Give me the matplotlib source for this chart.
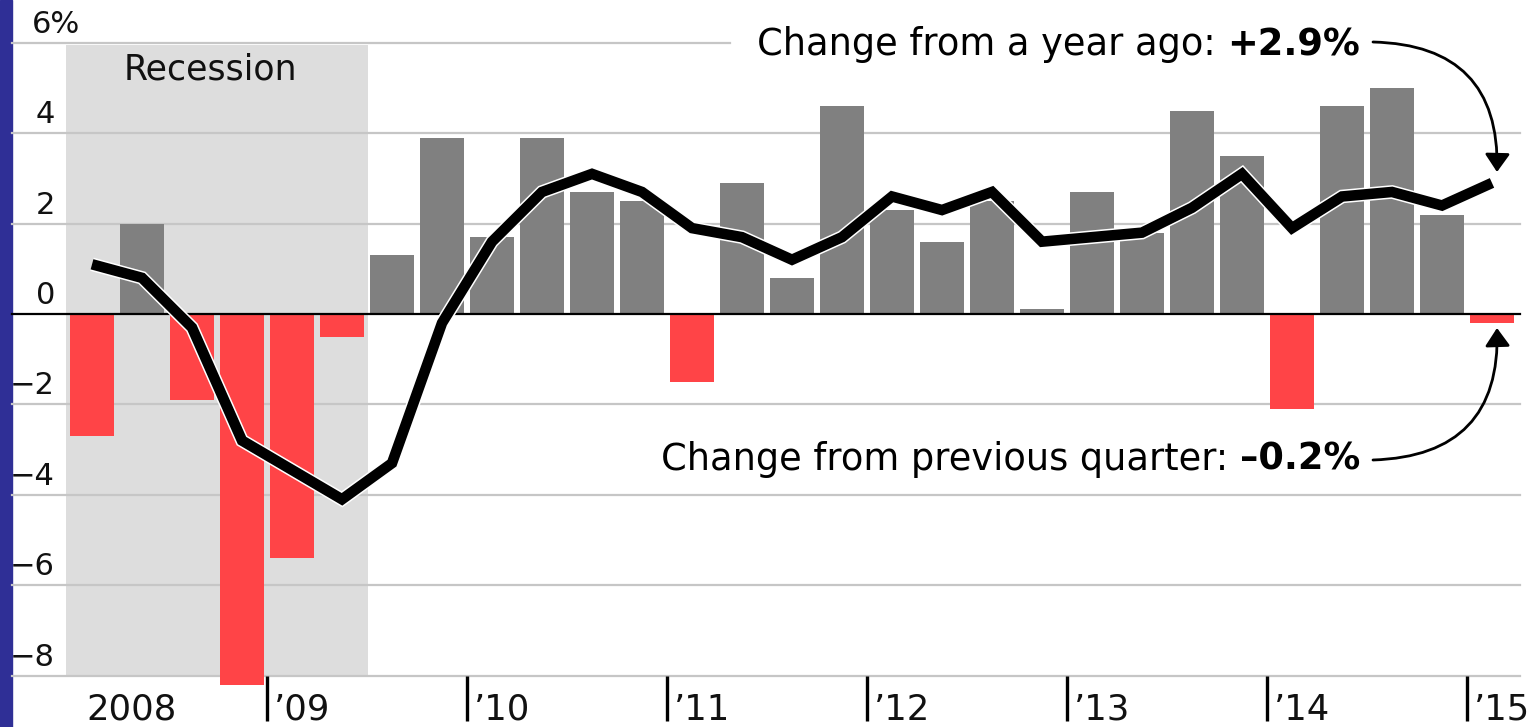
import matplotlib
matplotlib.use('Agg')
import matplotlib.pyplot as plt
import matplotlib.patheffects as pe
from matplotlib.patches import Rectangle
import numpy as np

plt.rcParams['font.family'] = ['DejaVu Sans']

# ---- data (quarterly, 2008Q1 .. 2015Q1) ----
quarters = [f"{y}Q{q}" for y in range(2008, 2016) for q in range(1, 5)][:29]
qoq_change = [-2.7, 2.0, -1.9, -8.2, -5.4, -0.5, 1.3, 3.9,
              1.7, 3.9, 2.7, 2.5, -1.5, 2.9, 0.8, 4.6,
              2.3, 1.6, 2.5, 0.1, 2.7, 1.8, 4.5, 3.5,
              -2.1, 4.6, 5.0, 2.2, -0.2]
yoy_change = [1.1, 0.8, -0.3, -2.8, -3.45, -4.1, -3.3, -0.2,
              1.6, 2.7, 3.1, 2.7, 1.9, 1.7, 1.2, 1.7,
              2.6, 2.3, 2.7, 1.6, 1.7, 1.8, 2.35, 3.1,
              1.9, 2.6, 2.7, 2.4, 2.9]
year_labels = ["2008", "\u201909", "\u201910", "\u201911", "\u201912",
               "\u201913", "\u201914", "\u201915"]
y_ticks = [6, 4, 2, 0, -2, -4, -6, -8]
y_tick_labels = ["6%", "4", "2", "0", "\u22122", "\u22124", "\u22126", "\u22128"]
recession_quarters = (0, 5)  # 2008Q1 .. 2009Q2

# ---- layout helpers (pixel -> data) ----
W, H = 1532, 727
def px2x(px):
    return (px - 92) / 50.0
def py2y(py):
    return (314 - py) / 45.2

fig = plt.figure(figsize=(W / 100, H / 100), dpi=100)
ax = fig.add_axes([0, 0, 1, 1])
ax.set_xlim(px2x(0), px2x(W))
ax.set_ylim(py2y(H), py2y(0))
ax.axis('off')

# left blue strip
fig.add_artist(Rectangle((0, 0), 12 / W, 1, transform=fig.transFigure,
                         color='#2f2f96', zorder=0))

x = np.arange(len(qoq_change))
GRID_L, GRID_R = px2x(12), px2x(1520)

# recession shading
ax.fill_between([recession_quarters[0] - 0.52, recession_quarters[1] + 0.52],
                -8, 5.95, color='#dddddd', lw=0, zorder=0.5)
ax.text((recession_quarters[0] + recession_quarters[1]) / 2 - 0.14, py2y(80),
        "Recession", fontsize=25, ha='center', va='baseline', color='#111111')

# gridlines
for v, lab in zip(y_ticks, y_tick_labels):
    if v != 0:
        right = px2x(730) if v == 6 else GRID_R
        ax.plot([GRID_L, right], [v, v], color='#c6c6c6', lw=1.6, zorder=1)
    if v == 6:
        ax.text(px2x(32), v + 10 / 45.2, lab, fontsize=22, ha='left',
                va='baseline', color='#111111')
    else:
        ax.text(px2x(55), v + 10 / 45.2, lab, fontsize=22, ha='right',
                va='baseline', color='#111111')

# bars
colors = ['#808080' if v >= 0 else '#ff4447' for v in qoq_change]
ax.bar(x, qoq_change, width=0.87, color=colors, lw=0, zorder=2)

# zero line
ax.plot([GRID_L, GRID_R], [0, 0], color='black', lw=1.6, zorder=3)

# year-over-year line
ax.plot(x, yoy_change, color='black', lw=7.6, solid_joinstyle='miter',
        solid_capstyle='butt', zorder=4,
        path_effects=[pe.Stroke(linewidth=9.8, foreground='white'), pe.Normal()])

# year ticks and labels
for k, lab in enumerate(year_labels):
    if k == 0:
        ax.text(px2x(86), py2y(720), lab, fontsize=25.5, ha='left',
                va='baseline', color='#111111')
    else:
        xt = 4 * k - 0.5
        ax.plot([xt, xt], [-8, py2y(721)], color='black', lw=2.4, zorder=3,
                solid_capstyle='butt')
        ax.text(xt + 7 / 50, py2y(720), lab, fontsize=25.5, ha='left',
                va='baseline', color='#111111')

# annotations (normal text + bold value)
fig.canvas.draw()
renderer = fig.canvas.get_renderer()

def two_part(right_px, baseline_py, normal, bold):
    tb = ax.text(px2x(right_px), py2y(baseline_py), bold, fontsize=26.5,
                 fontweight='bold', ha='right', va='baseline', color='black',
                 zorder=6)
    bb = tb.get_window_extent(renderer)
    x0 = ax.transData.inverted().transform((bb.x0, 0))[0]
    ax.text(x0, py2y(baseline_py), normal, fontsize=26.5, ha='right',
            va='baseline', color='black', zorder=6)

two_part(1360, 55, "Change from a year ago: ", "+2.9%")
two_part(1360, 470, "Change from previous quarter: ", "\u20130.2%")

arrow_style = '-|>,head_length=0.55,head_width=0.38'
ax.annotate('', xy=(px2x(1497), py2y(172)), xytext=(px2x(1373), py2y(42)),
            arrowprops=dict(arrowstyle=arrow_style,
                            connectionstyle='arc3,rad=-0.5', color='black',
                            lw=2.0, mutation_scale=20, shrinkA=0, shrinkB=0),
            zorder=6)
ax.annotate('', xy=(px2x(1497), py2y(328)), xytext=(px2x(1373), py2y(460)),
            arrowprops=dict(arrowstyle=arrow_style,
                            connectionstyle='arc3,rad=0.5', color='black',
                            lw=2.0, mutation_scale=20, shrinkA=0, shrinkB=0),
            zorder=6)

fig.savefig('out.png', dpi=100, facecolor='white')
